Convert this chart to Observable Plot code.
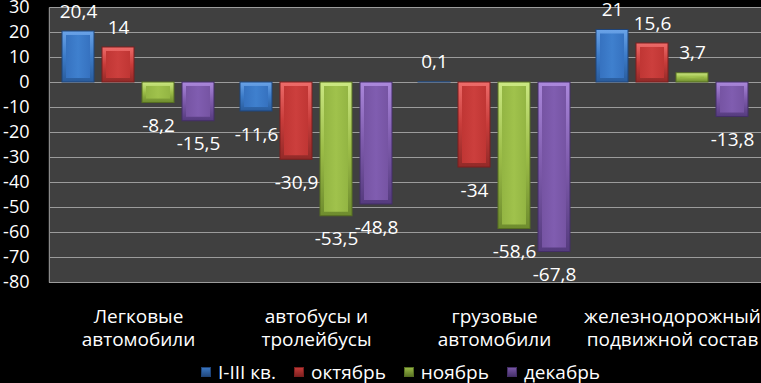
<!DOCTYPE html>
<html>
<head>
<meta charset="utf-8">
<script src="https://cdn.jsdelivr.net/npm/d3@7"></script>
<script src="https://cdn.jsdelivr.net/npm/@observablehq/plot@0.6"></script>
<style>
  html, body { margin: 0; padding: 0; background: #000; }
  #wrap { position: relative; width: 761px; height: 383px; overflow: hidden; }
  #legend { position: absolute; left: 201px; top: 360px; display: flex; align-items: center; color: #fff;
            font-family: "Open Sans", sans-serif; font-size: 19px; line-height: 24px; }
  #legend .it { display: flex; align-items: center; margin-right: 18px; }
  #legend .sw { width: 10px; height: 10px; margin-right: 7px; }
  #border { position: absolute; left: 49px; top: 7px; width: 1px; height: 275px; background: #8a8a8a; }
</style>
</head>
<body>
<svg width="0" height="0" style="position:absolute">
  <defs>
    <linearGradient id="o0" x1="0" y1="0" x2="0" y2="1"><stop offset="0" stop-color="#6aa3e8"/><stop offset="0.5" stop-color="#3c7bc8"/><stop offset="1" stop-color="#2a5c9c"/></linearGradient>
    <linearGradient id="o1" x1="0" y1="0" x2="0" y2="1"><stop offset="0" stop-color="#ee6c6a"/><stop offset="0.5" stop-color="#c83c3a"/><stop offset="1" stop-color="#922a28"/></linearGradient>
    <linearGradient id="o2" x1="0" y1="0" x2="0" y2="1"><stop offset="0" stop-color="#cbe882"/><stop offset="0.5" stop-color="#9cbd48"/><stop offset="1" stop-color="#6e8c2e"/></linearGradient>
    <linearGradient id="o3" x1="0" y1="0" x2="0" y2="1"><stop offset="0" stop-color="#ab88dc"/><stop offset="0.5" stop-color="#7d5aab"/><stop offset="1" stop-color="#553b7e"/></linearGradient>
    <linearGradient id="i0" x1="0" y1="0" x2="1" y2="0"><stop offset="0" stop-color="#3672c0"/><stop offset="0.5" stop-color="#3f80ce"/><stop offset="1" stop-color="#3672c0"/></linearGradient>
    <linearGradient id="i1" x1="0" y1="0" x2="1" y2="0"><stop offset="0" stop-color="#c03634"/><stop offset="0.5" stop-color="#cc3f3d"/><stop offset="1" stop-color="#c03634"/></linearGradient>
    <linearGradient id="i2" x1="0" y1="0" x2="1" y2="0"><stop offset="0" stop-color="#93b543"/><stop offset="0.5" stop-color="#a0c24c"/><stop offset="1" stop-color="#93b543"/></linearGradient>
    <linearGradient id="i3" x1="0" y1="0" x2="1" y2="0"><stop offset="0" stop-color="#7654a3"/><stop offset="0.5" stop-color="#805db0"/><stop offset="1" stop-color="#7654a3"/></linearGradient>
  </defs>
</svg>
<div id="wrap">
  <div id="chart"></div>
  <div id="border"></div>
  <div id="legend"></div>
</div>
<script>
const categories = ["Легковые\nавтомобили", "автобусы и\nтролейбусы", "грузовые\nавтомобили", "железнодорожный\nподвижной состав"];
const series = ["I-III кв.", "октябрь", "ноябрь", "декабрь"];
const q13 = [20.4, -11.6, 0.1, 21];
const oct = [14, -30.9, -34, 15.6];
const nov = [-8.2, -53.5, -58.6, 3.7];
const dec = [-15.5, -48.8, -67.8, -13.8];
const yTicks = [30, 20, 10, 0, -10, -20, -30, -40, -50, -60, -70, -80];
const outerFills = ["url(#o0)", "url(#o1)", "url(#o2)", "url(#o3)"];
const innerFills = ["url(#i0)", "url(#i1)", "url(#i2)", "url(#i3)"];
const strokes = ["#1f4478", "#7a1f1e", "#566e22", "#432e66"];
const swatch = ["#3c7bc8", "#c83c3a", "#9cbd48", "#7d5aab"];

const values = [q13, oct, nov, dec];
const data = [];
categories.forEach((c, ci) => series.forEach((s, si) => data.push({c, s, si, v: values[si][ci]})));
const fmt = d => String(d.v).replace(".", ",");

const marks = [
  Plot.frame({fill: "#404040", stroke: "none", insetLeft: -1, insetRight: -1}),
  Plot.ruleY(yTicks, {stroke: "#9c9c9c", strokeWidth: 1})
];
series.forEach((s, si) => {
  const sub = data.filter(d => d.si === si);
  marks.push(Plot.barY(sub, {fx: "c", x: "s", y: "v", fill: outerFills[si], stroke: strokes[si], strokeWidth: 1}));
  marks.push(Plot.barY(sub, {fx: "c", x: "s", y: "v", fill: innerFills[si], insetLeft: 4, insetRight: 4, insetTop: 4, insetBottom: 4}));
});
marks.push(Plot.text(data.filter(d => d.v >= 0), {fx: "c", x: "s", y: "v", text: fmt, dy: -20, fill: "white", fontSize: 19}));
marks.push(Plot.text(data.filter(d => d.v < 0), {fx: "c", x: "s", y: "v", text: fmt, dy: 23, fill: "white", fontSize: 19}));
marks.push(Plot.text(categories, {fx: d => d, text: d => d, frameAnchor: "bottom", lineAnchor: "top", dy: 24, lineHeight: 1.22, fontSize: 19, fill: "white"}));

const chart = Plot.plot({
  width: 761,
  height: 358,
  marginLeft: 49,
  marginRight: 0,
  marginTop: 7,
  marginBottom: 76,
  style: {background: "transparent", color: "white", fontSize: "18px", fontFamily: "Open Sans"},
  fx: {domain: categories, padding: 0, axis: null},
  x: {domain: series, axis: null, paddingInner: 0.21, paddingOuter: 0.3},
  y: {domain: [-80, 30], ticks: yTicks, tickSize: 0, tickPadding: 20, label: null, tickFormat: d => String(d)},
  marks
});
document.getElementById("chart").appendChild(chart);

const lg = document.getElementById("legend");
series.forEach((s, si) => {
  const it = document.createElement("div");
  it.className = "it";
  const sw = document.createElement("div");
  sw.className = "sw";
  sw.style.background = `linear-gradient(${swatch[si]}, ${strokes[si]})`;
  sw.style.boxShadow = `inset 0 0 0 1px ${strokes[si]}`;
  const t = document.createElement("span");
  t.textContent = s;
  it.appendChild(sw); it.appendChild(t);
  lg.appendChild(it);
});
</script>
</body>
</html>
